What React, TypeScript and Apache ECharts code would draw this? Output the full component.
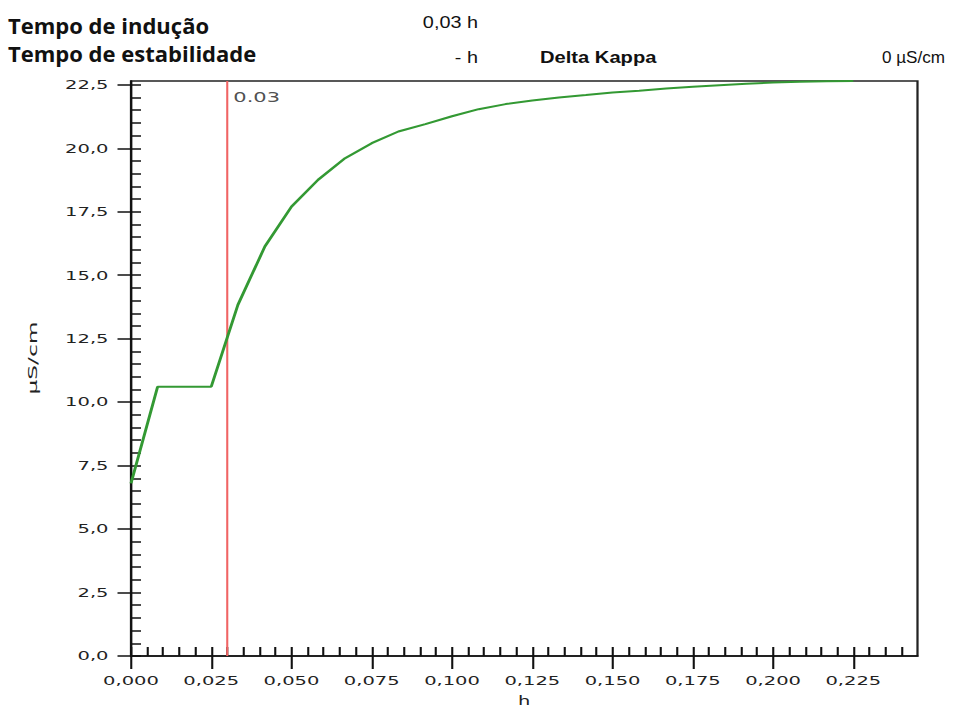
import React, { useEffect, useRef } from "react";
import * as echarts from "echarts";

// ---- data ----
const timeH = [
  0, 0.0083, 0.0167, 0.025, 0.0333, 0.0417, 0.05, 0.0583, 0.0667, 0.075,
  0.0833, 0.0917, 0.1, 0.1083, 0.1167, 0.125, 0.1333, 0.1417, 0.15, 0.1583,
  0.1667, 0.175, 0.1833, 0.1917, 0.2, 0.2083, 0.2167, 0.225,
];
const kappa = [
  6.8, 10.61, 10.61, 10.61, 13.83, 16.13, 17.7, 18.76, 19.61, 20.2,
  20.66, 20.95, 21.26, 21.54, 21.74, 21.88, 22.0, 22.1, 22.2, 22.27,
  22.35, 22.42, 22.48, 22.54, 22.59, 22.62, 22.64, 22.65,
];
const xMajorTicks = [0, 0.025, 0.05, 0.075, 0.1, 0.125, 0.15, 0.175, 0.2, 0.225];
const yMajorTicks = [0, 2.5, 5, 7.5, 10, 12.5, 15, 17.5, 20, 22.5];
const X_MAX = 0.245;
const Y_MAX = 22.65;
const X_MINOR_STEP = 0.005;
const Y_MINOR_STEP = 0.5;
const markerX = 0.03;
const inductionLabel = "Tempo de indução";
const stabilityLabel = "Tempo de estabilidade";
const inductionValue = "0,03 h";
const stabilityValue = "- h";
const deltaLabel = "Delta Kappa";
const deltaValue = "0 µS/cm";
const xName = "h";
const yName = "µS/cm";

// ---- layout ----
const S = 1.5; // horizontal stretch of the drawing
const W = 965 / S;
const H = 711;
const FONT = '"DejaVu Sans", sans-serif';

function buildTicks(max: number, step: number) {
  const out: number[] = [];
  for (let i = 0; i * step <= max + 1e-9; i++) out.push(Math.round(i * step * 1e6) / 1e6);
  return out;
}

export default function App() {
  const ref = useRef<HTMLDivElement>(null);
  useEffect(() => {
    if (!ref.current) return;
    const chart = echarts.init(ref.current, null, { renderer: "svg" });
    const xAll = buildTicks(X_MAX - 0.004, X_MINOR_STEP);
    const yAll = buildTicks(22.5, Y_MINOR_STEP);
    const axisColor = "#111";
    const labelColor = "#222";
    const hdr = (
      text: string,
      xPage: number,
      yMid: number,
      font: string,
      stretch: number,
      align: string
    ) => ({
      type: "text",
      x: xPage / S,
      y: yMid,
      scaleX: stretch / S,
      scaleY: 1,
      silent: true,
      style: { text, font, fill: "#111", align, verticalAlign: "middle" },
    });
    chart.setOption({
      animation: false,
      backgroundColor: "#ffffff",
      textStyle: { fontFamily: FONT },
      grid: {
        left: 131 / S,
        right: W - 918 / S,
        top: 81,
        bottom: H - 656,
        show: true,
        borderColor: "#222",
        borderWidth: 1.5,
        backgroundColor: "transparent",
        containLabel: false,
        outerBoundsMode: "none",
      },
      xAxis: [
        {
          type: "value",
          min: 0,
          max: X_MAX,
          position: "bottom",
          name: xName,
          nameLocation: "middle",
          nameGap: 38,
          nameTextStyle: { fontFamily: FONT, fontSize: 13, color: labelColor },
          axisLine: { show: true, onZero: false, lineStyle: { color: axisColor, width: 1.5 } },
          axisTick: {
            show: true,
            inside: false,
            length: 13,
            customValues: xMajorTicks,
            lineStyle: { color: axisColor, width: 1.4 },
          },
          axisLabel: {
            show: true,
            customValues: xMajorTicks,
            formatter: (v: number) => v.toFixed(3).replace(".", ","),
            margin: 18,
            fontSize: 13,
            fontFamily: FONT,
            color: labelColor,
            hideOverlap: false,
          },
          splitLine: { show: false },
        },
        {
          type: "value",
          min: 0,
          max: X_MAX,
          position: "bottom",
          axisLine: { show: false, onZero: false },
          axisTick: {
            show: true,
            inside: true,
            length: 9,
            customValues: xAll,
            lineStyle: { color: axisColor, width: 1.4 },
          },
          axisLabel: { show: false },
          splitLine: { show: false },
        },
      ],
      yAxis: [
        {
          type: "value",
          min: 0,
          max: Y_MAX,
          position: "left",
          axisLine: { show: true, onZero: false, lineStyle: { color: axisColor, width: 1.4 } },
          axisTick: {
            show: true,
            inside: false,
            length: 13.5 / S,
            customValues: yMajorTicks,
            lineStyle: { color: axisColor, width: 1.5 },
          },
          axisLabel: {
            show: true,
            customValues: yMajorTicks,
            formatter: (v: number) => v.toFixed(1).replace(".", ","),
            margin: 22.5 / S,
            fontSize: 13,
            fontFamily: FONT,
            color: labelColor,
            hideOverlap: false,
          },
          splitLine: { show: false },
        },
        {
          type: "value",
          min: 0,
          max: Y_MAX,
          position: "left",
          axisLine: { show: false, onZero: false },
          axisTick: {
            show: true,
            inside: true,
            length: 10 / S,
            customValues: yAll,
            lineStyle: { color: axisColor, width: 1.5 },
          },
          axisLabel: { show: false },
          splitLine: { show: false },
        },
      ],
      series: [
        {
          type: "line",
          xAxisIndex: 0,
          yAxisIndex: 0,
          data: timeH.map((t, i) => [t, kappa[i]]),
          showSymbol: false,
          symbol: "none",
          lineStyle: { color: "#339933", width: 2 },
          z: 3,
          markLine: {
            silent: true,
            symbol: ["none", "none"],
            label: { show: false },
            lineStyle: { color: "#f06464", width: 1.4, type: "solid" },
            data: [{ xAxis: markerX }],
            z: 2,
          },
        },
        {
          type: "scatter",
          xAxisIndex: 0,
          yAxisIndex: 0,
          data: [[markerX, Y_MAX]],
          symbolSize: 0,
          clip: false,
          silent: true,
          label: {
            show: true,
            formatter: () => String(markerX),
            position: [4, 9],
            align: "left",
            verticalAlign: "top",
            fontFamily: FONT,
            fontSize: 14,
            color: labelColor,
          },
        },
      ],
      graphic: [
        hdr(inductionLabel, 8, 25, 'bold 22px "Open Sans"', 1.0, "left"),
        hdr(stabilityLabel, 8, 53, 'bold 22px "Open Sans"', 1.0, "left"),
        hdr(inductionValue, 478, 22.5, '16px "Liberation Sans"', 1.24, "right"),
        hdr(stabilityValue, 478, 57.5, '16px "Liberation Sans"', 1.24, "right"),
        hdr(deltaLabel, 540, 57.5, 'bold 16px "Liberation Sans"', 1.26, "left"),
        hdr(deltaValue, 945, 57.5, '16px "Liberation Sans"', 1.07, "right"),
        {
          type: "text",
          x: 32 / S,
          y: 358,
          rotation: Math.PI / 2,
          scaleX: 1.8,
          scaleY: 1 / S,
          silent: true,
          style: {
            text: yName,
            font: '13px "DejaVu Sans"',
            fill: labelColor,
            align: "center",
            verticalAlign: "middle",
          },
        },
      ],
    });
    return () => chart.dispose();
  }, []);
  return (
    <div
      ref={ref}
      style={{
        position: "absolute",
        left: 0,
        top: 0,
        width: W,
        height: H,
        transform: `scaleX(${S})`,
        transformOrigin: "0 0",
        background: "#fff",
      }}
    />
  );
}
